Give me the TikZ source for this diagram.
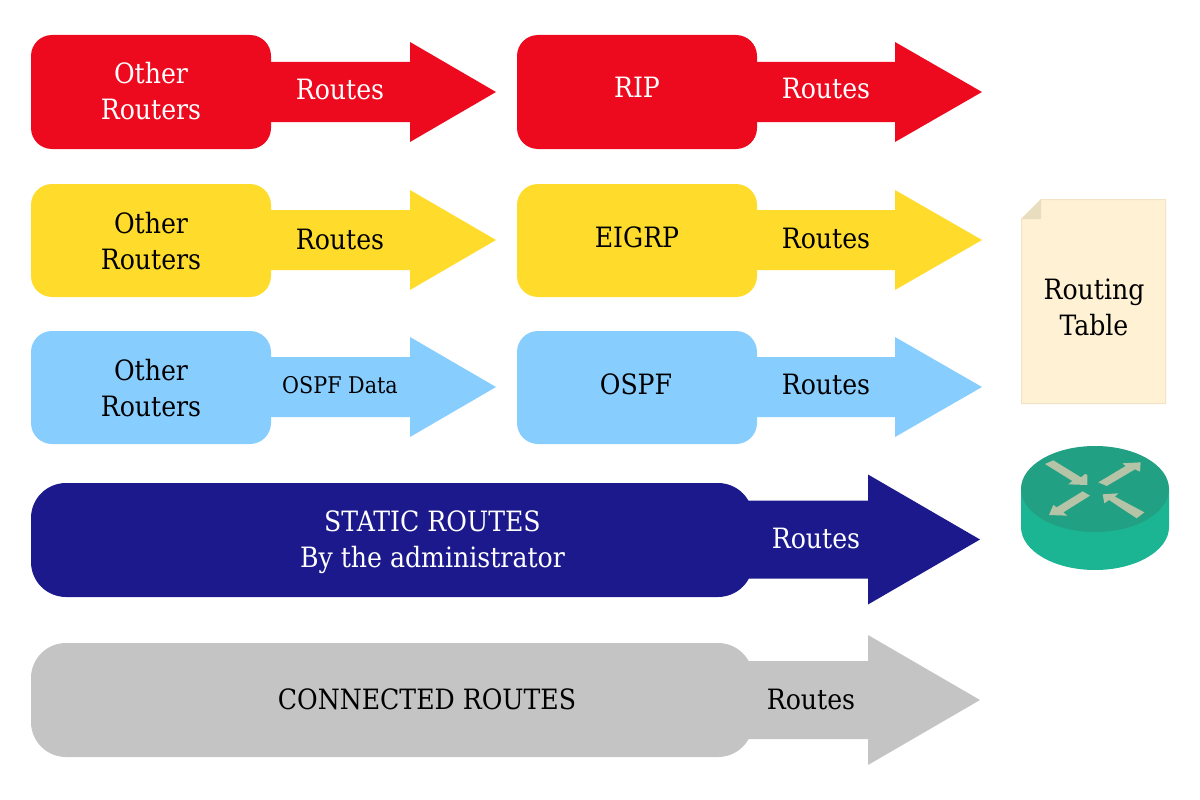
\documentclass[tikz,border=0pt]{standalone}
\usepackage{fontspec}
\setmainfont{DejaVu Serif Condensed}
\definecolor{cred}{HTML}{ED0A1F}
\definecolor{cyel}{HTML}{FFDB2B}
\definecolor{cblu}{HTML}{87CEFF}
\definecolor{cnav}{HTML}{1B198C}
\definecolor{cgry}{HTML}{C4C4C4}
\definecolor{cdoc}{HTML}{FFF2D4}
\definecolor{cedg}{HTML}{F2E3C5}
\definecolor{cfld}{HTML}{E9DDBF}
\definecolor{cside}{HTML}{1BB594}
\definecolor{ctop}{HTML}{22A083}
\definecolor{carr}{HTML}{B5C4A6}
\tikzset{
  x=1pt,y=-1pt,
  lab/.style={font=\fontsize{28}{36}\selectfont,align=center,inner sep=0pt,anchor=center},
  smalllab/.style={font=\fontsize{23}{30}\selectfont,align=center,inner sep=0pt,anchor=center},
}
% colour, x0, xhead, xtip, ycentre, half shaft, half head
\newcommand{\shaftarrow}[7]{\fill[#1] (#2,#5-#6) -- (#3,#5-#6) -- (#3,#5-#7) -- (#4,#5) -- (#3,#5+#7) -- (#3,#5+#6) -- (#2,#5+#6) -- cycle;}
% colour, x0, y0, x1, y1, radius
\newcommand{\roundbox}[6]{\fill[#1,rounded corners=#6pt] (#2,#3) rectangle (#4,#5);}
\begin{document}
\begin{tikzpicture}
\useasboundingbox (0,0) rectangle (1200,800);
% row 1
\shaftarrow{cred}{260}{410}{496}{92}{30}{50}
\roundbox{cred}{31}{35}{271}{149}{21}
\node[lab,text=white] (r1a) at (151,91.5) {Other\\Routers};
\node[lab,text=white] (r1b) at (340,89.5) {Routes};
\shaftarrow{cred}{746}{895}{982}{92}{30}{50}
\roundbox{cred}{517}{35}{757}{149}{21}
\node[lab,text=white] (r1c) at (637,87.5) {RIP};
\node[lab,text=white] (r1d) at (826,88.5) {Routes};
% row 2
\shaftarrow{cyel}{260}{410}{496}{240}{30}{50}
\roundbox{cyel}{31}{184}{271}{297}{21}
\node[lab] (r2a) at (151,241.5) {Other\\Routers};
\node[lab] (r2b) at (340,239.5) {Routes};
\shaftarrow{cyel}{746}{895}{982}{240}{30}{50}
\roundbox{cyel}{517}{184}{757}{297}{21}
\node[lab] (r2c) at (637,237.5) {EIGRP};
\node[lab] (r2d) at (826,238.5) {Routes};
% row 3
\shaftarrow{cblu}{260}{410}{496}{387}{30}{50}
\roundbox{cblu}{31}{331}{271}{444}{21}
\node[lab] (r3a) at (151,388.5) {Other\\Routers};
\node[smalllab] (r3b) at (340,385.5) {OSPF Data};
\shaftarrow{cblu}{746}{895}{982}{387}{30}{50}
\roundbox{cblu}{517}{331}{757}{444}{21}
\node[lab] (r3c) at (636,384.5) {OSPF};
\node[lab] (r3d) at (826,384.5) {Routes};
% row 4
\shaftarrow{cnav}{720}{868}{980}{539.5}{39}{65}
\roundbox{cnav}{31}{483}{753}{597}{35}
\node[lab,text=white] (r4a) at (432.5,542.5) {STATIC ROUTES\\By the administrator};
\node[lab,text=white] (r4b) at (816,538.5) {Routes};
% row 5
\shaftarrow{cgry}{720}{868}{980}{700}{39}{65}
\roundbox{cgry}{31}{643}{753}{757}{35}
\node[lab] (r5a) at (427,699.5) {CONNECTED ROUTES};
\node[lab] (r5b) at (811,699.5) {Routes};
% routing table
\filldraw[fill=cdoc,draw=cedg,line width=1pt] (1041,199.5) -- (1165.5,199.5) -- (1165.5,403.5) -- (1021.5,403.5) -- (1021.5,219) -- cycle;
\fill[cfld] (1041,199.5) -- (1041,219) -- (1021.5,219) -- cycle;
\node[lab] (tbl) at (1094,307.5) {Routing\\Table};
% router
\fill[cside] (1021,489) -- (1021,527) arc[start angle=180,end angle=360,x radius=74,y radius=-43] -- (1169,489) -- cycle;
\fill[ctop] (1095,489) ellipse[x radius=74,y radius=43];
\begin{scope}[shift={(1035,450)},x=0.3333pt,y=-0.3333pt]
\fill[carr] (30,42) -- (55,31) -- (138,82) -- (150,72) -- (157,75) -- (157,105) -- (100,103) -- (112,93) -- cycle;
\fill[carr] (190,97) -- (272,48) -- (262,40) -- (317,37) -- (315,65) -- (300,58) -- (215,108) -- cycle;
\fill[carr] (165,137) -- (143,124) -- (65,172) -- (55,165) -- (42,195) -- (97,197) -- (85,187) -- cycle;
\fill[carr] (203,133) -- (250,130) -- (240,140) -- (328,187) -- (305,205) -- (222,150) -- (208,160) -- cycle;
\end{scope}
\end{tikzpicture}
\end{document}
